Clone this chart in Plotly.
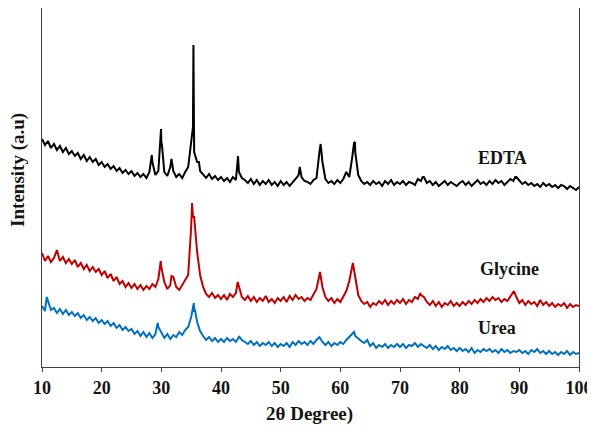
import plotly.graph_objects as go

# Scan parameters (2-theta, degrees)
scan_start = 10.0
scan_step = 0.5

# Baseline / grid readings (intensity, arbitrary units) on the 0.5 deg scan grid
edta_grid = [
    228, 222, 226, 219, 223, 217, 221, 215, 219, 213,
    216, 211, 214, 208, 212, 206, 210, 205, 208, 202,
    205, 200, 203, 198, 201, 196, 199, 194, 197, 193,
    196, 191, 194, 190, 193, 189, 195, 205, 192, 196,
    225, 195, 191, 200, 196, 190, 193, 189, 195, 200,
    225, 215, 205, 196, 192, 189, 193, 188, 191, 187,
    190, 186, 189, 185, 190, 187, 195, 189, 187, 184,
    188, 183, 187, 182, 186, 183, 187, 182, 185, 181,
    186, 182, 185, 181, 184, 188, 192, 190, 186, 185,
    183, 187, 189, 215, 205, 188, 184, 186, 183, 187,
    184, 188, 195, 190, 210, 215, 192, 186, 183, 185,
    182, 186, 183, 185, 181, 186, 183, 187, 182, 185,
    183, 186, 182, 185, 184, 182, 188, 186, 190, 184,
    186, 182, 185, 181, 184, 186, 182, 185, 183, 181,
    184, 186, 182, 185, 181, 184, 187, 183, 185, 182,
    186, 183, 187, 184, 186, 182, 185, 188, 186, 190,
    186, 183, 185, 182, 184, 181, 183, 180, 184, 181,
    183, 180, 182, 179, 182, 181, 178, 181, 179, 177,
    180,
]
edta_peak_x = [28.4, 29.8, 29.95, 30.1, 31.7, 35.3, 35.38, 35.46, 36.3, 42.85, 53.2, 56.7, 62.3, 62.45, 73.8, 89.3]
edta_peak_y = [212, 232, 238, 222, 208, 240, 322, 240, 205, 211, 200, 223, 224, 225, 190, 190]

glycine_grid = [
    114, 106, 111, 105, 109, 117, 106, 110, 104, 108,
    103, 107, 100, 104, 98, 102, 96, 100, 95, 98,
    92, 96, 89, 93, 86, 90, 83, 86, 80, 84,
    79, 83, 78, 82, 77, 81, 78, 83, 80, 88,
    100, 85, 78, 82, 90, 80, 77, 82, 86, 92,
    140, 150, 115, 92, 80, 73, 70, 74, 69, 72,
    68, 72, 67, 73, 70, 74, 80, 70, 67, 71,
    66, 70, 65, 69, 66, 71, 65, 68, 64, 69,
    66, 70, 65, 71, 67, 72, 68, 70, 66, 69,
    67, 72, 78, 92, 80, 70, 66, 69, 64, 68,
    65, 70, 76, 86, 100, 90, 72, 66, 63, 65,
    60, 64, 62, 66, 63, 67, 62, 66, 63, 67,
    64, 68, 63, 67, 65, 70, 68, 72, 70, 65,
    62, 66, 61, 65, 60, 64, 62, 66, 61, 64,
    61, 65, 62, 66, 63, 67, 64, 68, 65, 69,
    66, 70, 67, 69, 65, 68, 66, 70, 74, 70,
    64, 67, 62, 66, 63, 65, 61, 67, 62, 65,
    61, 64, 60, 63, 61, 64, 59, 63, 60, 62,
    61,
]
glycine_peak_x = [29.9, 31.7, 35.15, 35.3, 42.8, 56.6, 62.1, 73.4, 89.1]
glycine_peak_y = [106, 91, 164, 150, 85, 95, 104, 74, 76]

urea_grid = [
    61, 56, 66, 57, 59, 54, 58, 53, 57, 52,
    55, 51, 54, 49, 52, 47, 50, 46, 49, 44,
    47, 43, 46, 41, 44, 39, 42, 37, 40, 36,
    38, 33, 36, 31, 35, 30, 34, 29, 33, 40,
    34, 29, 33, 28, 32, 30, 35, 32, 37, 40,
    50, 55, 45, 36, 31, 27, 30, 26, 29, 25,
    28, 25, 29, 26, 28, 25, 30, 27, 25, 23,
    26, 22, 25, 21, 24, 22, 25, 21, 24, 20,
    23, 21, 24, 20, 25, 22, 26, 23, 25, 22,
    26, 23, 27, 30, 25, 22, 25, 21, 24, 22,
    25, 23, 27, 30, 33, 31, 28, 26, 24, 27,
    21, 24, 19, 22, 20, 23, 19, 22, 20, 23,
    20, 23, 19, 22, 21, 24, 20, 23, 21, 19,
    22, 18, 21, 17, 20, 18, 21, 17, 19, 16,
    19, 16, 18, 15, 19, 14, 17, 15, 18, 16,
    18, 15, 17, 14, 18, 15, 17, 14, 16, 15,
    17, 14, 16, 13, 17, 15, 18, 14, 16, 13,
    16, 13, 15, 12, 15, 13, 16, 12, 15, 13,
    14,
]
urea_peak_x = [10.8, 29.4, 35.45, 35.6, 43.0, 62.3]
urea_peak_y = [70, 44, 64, 58, 31, 35]

series_names = ["EDTA", "Glycine", "Urea"]
series_colors = ["#000000", "#C00000", "#0070C0"]
label_x = [87.1, 88.4, 86.3]
label_y = [209, 98, 39]
x_ticks = [10, 20, 30, 40, 50, 60, 70, 80, 90, 100]

for g in (edta_grid, glycine_grid, urea_grid):
    assert len(g) == 181, len(g)


def build(grid, px, py):
    pts = [(scan_start + scan_step * i, v) for i, v in enumerate(grid)]
    pts += list(zip(px, py))
    pts.sort(key=lambda p: p[0])
    return [p[0] for p in pts], [p[1] for p in pts]


fig = go.Figure()
data = [
    build(edta_grid, edta_peak_x, edta_peak_y),
    build(glycine_grid, glycine_peak_x, glycine_peak_y),
    build(urea_grid, urea_peak_x, urea_peak_y),
]
for (xs, ys), name, col in zip(data, series_names, series_colors):
    fig.add_trace(go.Scatter(x=xs, y=ys, mode="lines", name=name,
                             line=dict(color=col, width=2), showlegend=False))

font_serif = "Liberation Serif, Times New Roman, serif"
txt_col = "#141414"
for lx, ly, name in zip(label_x, label_y, series_names):
    fig.add_annotation(x=lx, y=ly, text="<b>%s</b>" % name, showarrow=False,
                       font=dict(family=font_serif, size=18, color=txt_col))

# axis titles
fig.add_annotation(xref="paper", yref="paper", x=0.499, y=-0.131,
                   text="<b>2θ Degree)</b>", showarrow=False,
                   xanchor="center", yanchor="middle",
                   font=dict(family=font_serif, size=19, color=txt_col))
fig.add_annotation(xref="paper", yref="paper", x=-0.0447, y=0.549,
                   text="<b>Intensity (a.u)</b>", showarrow=False, textangle=-90,
                   xanchor="center", yanchor="middle",
                   font=dict(family=font_serif, size=19, color=txt_col))

fig.update_layout(
    width=587, height=424,
    margin=dict(l=34, r=16, t=0, b=65),
    paper_bgcolor="white", plot_bgcolor="white",
    font=dict(family=font_serif, size=18, color=txt_col),
    xaxis=dict(range=[10, 100], tickvals=x_ticks,
               ticktext=["<b>%d</b>" % t for t in x_ticks],
               showline=True, linecolor="#404040", linewidth=1.3, mirror=True,
               ticks="outside", ticklen=4, tickcolor="#404040",
               showgrid=False, zeroline=False, automargin=False,
               tickfont=dict(family=font_serif, size=18, color=txt_col)),
    yaxis=dict(range=[0, 359], showticklabels=False, ticks="",
               showline=True, linecolor="#404040", linewidth=1.3, mirror=True,
               showgrid=False, zeroline=False, automargin=False),
)

fig.write_html("out.html")
